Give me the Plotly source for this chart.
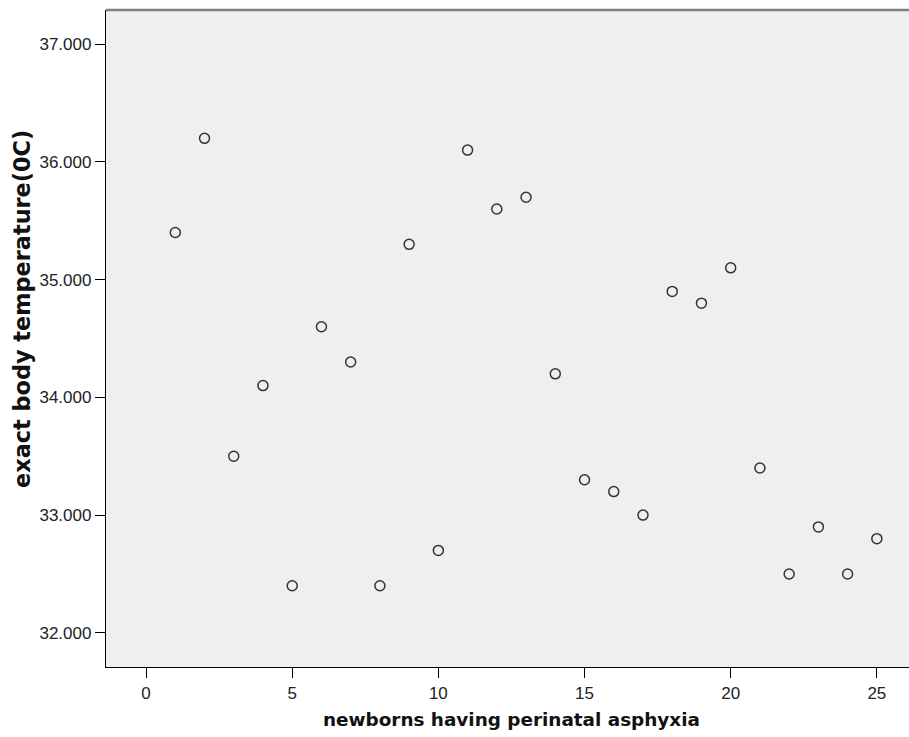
import plotly.graph_objects as go

newborn = list(range(1, 26))
temperature = [35.4, 36.2, 33.5, 34.1, 32.4, 34.6, 34.3, 32.4, 35.3, 32.7,
               36.1, 35.6, 35.7, 34.2, 33.3, 33.2, 33.0, 34.9, 34.8, 35.1,
               33.4, 32.5, 32.9, 32.5, 32.8]
x_ticks = [0, 5, 10, 15, 20, 25]
y_ticks = [32, 33, 34, 35, 36, 37]

W, H = 909, 737
PL, PT, PB = 106, 10, 667          # plot-area edges in window pixels
L, T, R, B = PL, PT, 0, H - PB
pw, ph = W - PL, PB - PT

TICKFONT = dict(family="Liberation Sans, Arial, sans-serif", size=17, color="#222222")

fig = go.Figure(go.Scatter(
    x=newborn, y=temperature, mode="markers",
    marker=dict(symbol="circle-open", size=10, color="#333333",
                line=dict(width=1.5, color="#333333")),
    hoverinfo="x+y", showlegend=False))

fig.update_layout(
    width=W, height=H,
    margin=dict(l=L, r=R, t=T, b=B, pad=0),
    paper_bgcolor="white", plot_bgcolor="#EFEFEF",
    font=dict(family="Liberation Sans, Arial, sans-serif", size=16, color="#222222"),
    xaxis=dict(range=[-1.37, 26.1], tickvals=x_ticks, ticks="outside", ticklen=10,
               tickwidth=1.3, tickcolor="black", showgrid=False, zeroline=False,
               showline=True, linecolor="black", linewidth=1.3,
               tickfont=TICKFONT),
    yaxis=dict(range=[31.71, 37.29], tickvals=y_ticks, tickformat=".3f",
               ticks="outside", ticklen=10, tickwidth=1.3, tickcolor="black",
               showgrid=False, zeroline=False, showline=True, linecolor="black",
               linewidth=1.3, tickfont=TICKFONT),
    shapes=[dict(type="line", xref="paper", yref="paper", x0=0, x1=1, y0=1, y1=1,
                 line=dict(color="#808080", width=2.5))],
    annotations=[
        dict(text="<b>newborns having perinatal asphyxia</b>", xref="paper", yref="paper",
             x=(511 - PL) / pw, y=(PB - 719) / ph, xanchor="center", yanchor="middle",
             showarrow=False, font=dict(family="DejaVu Sans, sans-serif", size=18.4, color="#111111")),
        dict(text="<b>exact body temperature(0C)</b>", xref="paper", yref="paper",
             x=(22 - PL) / pw, y=(PB - 309) / ph, xanchor="center", yanchor="middle",
             textangle=-90, showarrow=False,
             font=dict(family="DejaVu Sans, sans-serif", size=22.4, color="#111111")),
    ],
)

fig.write_html("out.html",
               config={"displayModeBar": False},
               post_script="document.body.style.margin='0px';document.body.style.overflow='hidden';")
